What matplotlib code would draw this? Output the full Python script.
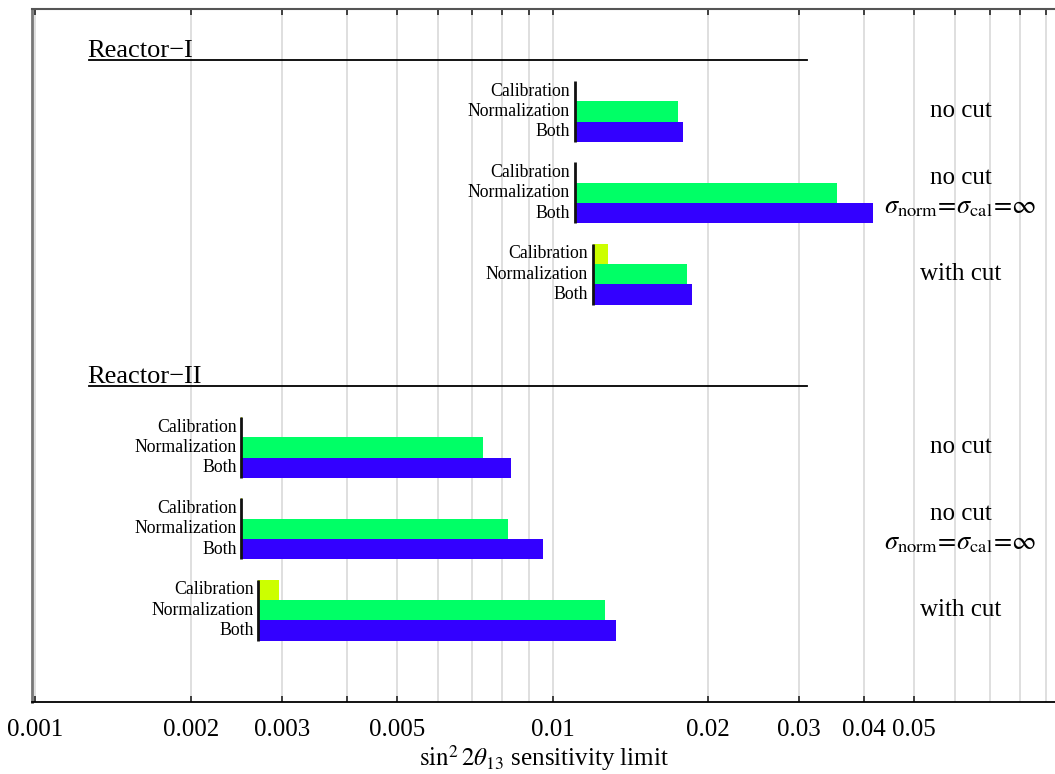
import matplotlib
matplotlib.use('Agg')
import matplotlib.pyplot as plt

plt.rcParams['font.family'] = ['Liberation Serif', 'DejaVu Serif']
plt.rcParams['mathtext.fontset'] = 'stix'

# ---------------- data ----------------
sections = ['Reactor\u2212I', 'Reactor\u2212II']
bar_labels = ['Calibration', 'Normalization', 'Both']
scenario_top = ['no cut', 'no cut', 'with cut']
scenario_bottom = [None, r'$\sigma_{\rm norm}\!=\!\sigma_{\rm cal}\!=\!\infty$', None]

# statistics-only limit (bar origin) per scenario
base_I = [0.01103, 0.01103, 0.01195]
base_II = [0.002503, 0.002503, 0.00270]
# limits including systematics
calib_I = [0.01107, 0.01107, 0.01278]
norm_I = [0.01745, 0.03543, 0.01824]
both_I = [0.01784, 0.04159, 0.01857]
calib_II = [0.002512, 0.002512, 0.002965]
norm_II = [0.007354, 0.008185, 0.01261]
both_II = [0.008295, 0.009565, 0.01324]

tick_vals = [0.001, 0.002, 0.003, 0.005, 0.01, 0.02, 0.03, 0.04, 0.05]
tick_text = ['0.001', '0.002', '0.003', '0.005', '0.01', '0.02', '0.03', '0.04', '0.05']
grid_vals = [k * 10.0 ** e for e in (-3, -2) for k in range(1, 10)]

colors = ['#CCFF00', '#00FF66', '#3300FF']

# ---------------- layout ----------------
W, H = 1055, 774
fig = plt.figure(figsize=(W / 100, H / 100), dpi=100)
ax = fig.add_axes([32 / W, 72 / H, 1 - 32 / W, 693 / H])
ax.set_xscale('log')
ax.set_xlim(0.000985, 0.0937)
ax.set_ylim(693, 0)

bar_h = 20.3
group_step = 81.3
section_top = [72, 408]
heading_y = [51, 377]
heading_x = (0.00127, 0.031)
right_x = 0.0615

for v in grid_vals:
    ax.axvline(v, color='#d9d9d9', lw=1.2, zorder=0)

data = [(base_I, calib_I, norm_I, both_I), (base_II, calib_II, norm_II, both_II)]
for s, (base, cal, nor, both) in enumerate(data):
    ax.plot(heading_x, [heading_y[s], heading_y[s]], color='black', lw=1.3, zorder=3)
    ax.annotate(sections[s], xy=(heading_x[0], heading_y[s]), xytext=(-1, 2.5),
                textcoords='offset points', ha='left', va='baseline', fontsize=19)
    for g in range(3):
        top = section_top[s] + g * group_step
        vals = [cal[g], nor[g], both[g]]
        for j in range(3):
            yc = top + (j + 0.5) * bar_h
            ax.barh(yc, vals[j] - base[g], left=base[g], height=bar_h,
                    color=colors[j], edgecolor='none', zorder=2)
            ax.annotate(bar_labels[j], xy=(base[g], yc), xytext=(-3.5, 0),
                        textcoords='offset points', ha='right', va='center',
                        fontsize=12.8)
        ax.plot([base[g], base[g]], [top, top + 3 * bar_h], color='#111111',
                lw=2, zorder=3, solid_capstyle='butt')
        yc = top + 1.5 * bar_h
        if scenario_bottom[g] is None:
            ax.text(right_x, yc, scenario_top[g], ha='center', va='center', fontsize=18)
        else:
            ax.annotate(scenario_top[g], xy=(right_x, yc), xytext=(0, 10.5),
                        textcoords='offset points', ha='center', va='center', fontsize=18)
            ax.annotate(scenario_bottom[g], xy=(right_x, yc), xytext=(0, -11),
                        textcoords='offset points', ha='center', va='center', fontsize=19)

# axes styling
ax.set_yticks([])
ax.spines['right'].set_visible(False)
ax.spines['left'].set_color('#777777')
ax.spines['left'].set_linewidth(2)
ax.spines['top'].set_color('#555555')
ax.spines['top'].set_linewidth(1.5)
ax.spines['bottom'].set_linewidth(1.3)

ax.set_xticks(tick_vals)
ax.set_xticklabels(tick_text, fontsize=18)
ax.set_xticks([0.004], minor=True)
ax.tick_params(axis='x', which='both', direction='in', length=4, width=1.3,
               pad=12, top=False, color='#333333')
ax.tick_params(axis='x', which='minor', labelbottom=False)
ax.set_xlabel(r'$\sin^2 2\theta_{13}$ sensitivity limit', fontsize=18, labelpad=2)

sec = ax.secondary_xaxis('top')
sec.set_xticks(grid_vals)
sec.set_xticks([], minor=True)
sec.tick_params(axis='x', direction='in', length=4, width=1.3, labeltop=False,
                color='#333333')
sec.spines['top'].set_visible(False)

fig.savefig('out.png', dpi=100)
